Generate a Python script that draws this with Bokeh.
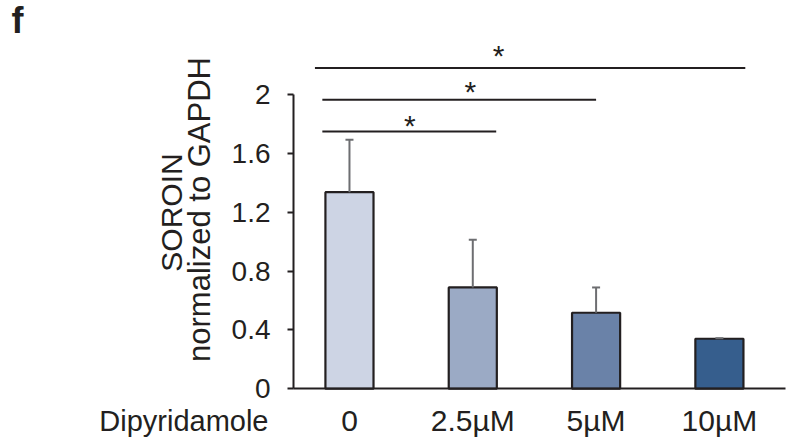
from bokeh.plotting import figure
from bokeh.models import (Range1d, FixedTicker, Label, Whisker, TeeHead,
                          ColumnDataSource, LinearAxis)
from bokeh.core.properties import value
from bokeh.embed import file_html
from bokeh.resources import INLINE

# ---- data ----
categories = ["0", "2.5µM", "5µM", "10µM"]
means = [1.337, 0.689, 0.517, 0.340]
upper = [1.694, 1.014, 0.689, 0.344]
colors = ["#CDD4E4", "#9BAAC5", "#6A82A8", "#365E8D"]
y_ticks = [0, 0.4, 0.8, 1.2, 1.6, 2]
y_tick_labels = ["0", "0.4", "0.8", "1.2", "1.6", "2"]
sig_start = [-0.22, -0.22, -0.28]
sig_end = [1.19, 2.0, 3.21]
sig_level = [1.75, 1.966, 2.182]
star_x = [0.49, 0.98, 1.21]
star_y = [1.814, 2.04, 2.29]
star_text = ["*", "*", "*"]

FONT = "Liberation Sans"
INK = "#231F20"

X_AXIS_START, X_AXIS_END = -0.454, 3.536

xs = list(range(len(categories)))
src = ColumnDataSource(dict(x=xs, means=means, upper=upper, colors=colors))

p = figure(width=794, height=440,
           x_range=Range1d(-2.830, 3.609), y_range=Range1d(-0.352, 2.641),
           output_backend="svg", toolbar_location=None,
           x_axis_location=None, y_axis_location=None,
           min_border=0)
p.xgrid.visible = False
p.ygrid.visible = False
p.outline_line_color = None
p.background_fill_color = "white"
p.border_fill_color = "white"

# bars
p.vbar(x="x", top="means", bottom=0, width=0.39, source=src,
       fill_color="colors", line_color=INK, line_width=2.2)

# error bars (upper only)
p.add_layout(Whisker(base="x", lower="means", upper="upper", source=src,
                     line_color="#6D6E71", line_width=2, lower_head=None,
                     upper_head=TeeHead(size=8, line_color="#6D6E71", line_width=2),
                     level="overlay"))

# significance brackets
p.segment(x0=sig_start, y0=sig_level, x1=sig_end, y1=sig_level,
          line_color=INK, line_width=2)
p.text(x=star_x, y=star_y, text=star_text, text_font=value(FONT),
       text_font_size="30px", text_align="center", text_baseline="middle",
       text_color=INK, y_offset=3)

# y axis
ya = LinearAxis(fixed_location=X_AXIS_START)
ya.ticker = FixedTicker(ticks=y_ticks)
ya.major_label_overrides = {t: l for t, l in zip(y_ticks, y_tick_labels)}
ya.bounds = (0, 2)
ya.axis_line_color = INK
ya.axis_line_width = 2
ya.major_tick_line_color = INK
ya.major_tick_line_width = 2
ya.major_tick_out = 6
ya.major_tick_in = 0
ya.minor_tick_line_color = None
ya.major_label_standoff = 17
ya.major_label_text_font = FONT
ya.major_label_text_font_size = "28px"
ya.major_label_text_color = INK
p.add_layout(ya, "left")

# x axis
xa = LinearAxis(fixed_location=0)
xa.ticker = FixedTicker(ticks=xs)
xa.major_label_overrides = {i: c for i, c in zip(xs, categories)}
xa.bounds = (X_AXIS_START, X_AXIS_END)
xa.axis_line_color = INK
xa.axis_line_width = 2
xa.major_tick_line_color = None
xa.major_tick_out = 0
xa.major_tick_in = 0
xa.minor_tick_line_color = None
xa.major_label_standoff = 15
xa.major_label_text_font = FONT
xa.major_label_text_font_size = "30px"
xa.major_label_text_color = INK
p.add_layout(xa, "below")

# texts (screen units: from the frame's bottom-left corner, which is the canvas)
p.add_layout(Label(x=268, y=20, x_units="screen", y_units="screen",
                   text="Dipyridamole", text_align="right", text_baseline="alphabetic",
                   text_font=FONT, text_font_size="29px", text_color=INK))
p.add_layout(Label(x=171, y=228, x_units="screen", y_units="screen",
                   text="SOROIN", angle=90, angle_units="deg",
                   text_align="center", text_baseline="alphabetic",
                   text_font=FONT, text_font_size="30px", text_color=INK))
p.add_layout(Label(x=199, y=231, x_units="screen", y_units="screen",
                   text="normalized to GAPDH", angle=90, angle_units="deg",
                   text_align="center", text_baseline="alphabetic",
                   text_font=FONT, text_font_size="31px", text_color=INK))
p.add_layout(Label(x=11, y=420, x_units="screen", y_units="screen",
                   text="f", text_align="left", text_baseline="alphabetic",
                   text_font=FONT, text_font_size="36px", text_font_style="bold",
                   text_color=INK))

open("out.html", "w").write(file_html(p, INLINE))
